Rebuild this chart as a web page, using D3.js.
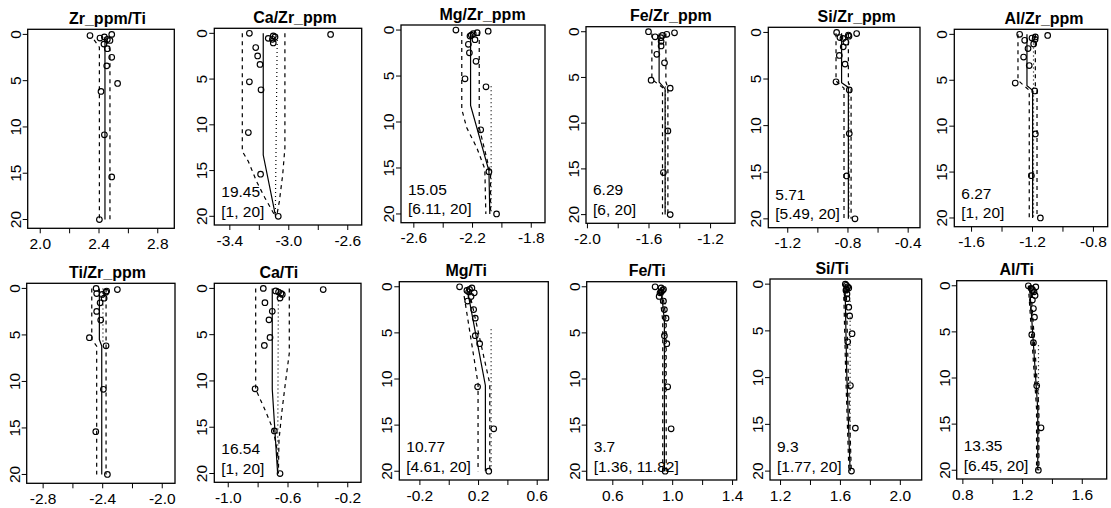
<!DOCTYPE html>
<html><head><meta charset="utf-8">
<script src="https://cdn.jsdelivr.net/npm/d3@7"></script>
<style>
body{margin:0;background:#fff;}
svg{display:block;font-family:"Liberation Sans",Arial,Helvetica,sans-serif;}
</style></head><body>
<svg id="c" width="1111" height="508"></svg>
<script>
// ---------- data ----------
const depths = [0.0, 0.12, 0.28, 0.4, 0.55, 0.65, 1.05, 1.55, 2.47, 3.4, 5.3, 6.17, 10.85, 15.4, 20.0];
const titles = ["Zr_ppm/Ti","Ca/Zr_ppm","Mg/Zr_ppm","Fe/Zr_ppm","Si/Zr_ppm","Al/Zr_ppm",
                "Ti/Zr_ppm","Ca/Ti","Mg/Ti","Fe/Ti","Si/Ti","Al/Ti"];
const xTicks = [
  [2.0,2.2,2.4,2.6,2.8], [-3.4,-3.2,-3.0,-2.8,-2.6], [-2.6,-2.4,-2.2,-2.0,-1.8],
  [-2.0,-1.8,-1.6,-1.4,-1.2], [-1.2,-1.0,-0.8,-0.6,-0.4], [-1.6,-1.4,-1.2,-1.0,-0.8],
  [-2.8,-2.6,-2.4,-2.2,-2.0], [-1.0,-0.8,-0.6,-0.4,-0.2], [-0.2,0.0,0.2,0.4,0.6],
  [0.6,0.8,1.0,1.2,1.4], [1.2,1.4,1.6,1.8,2.0], [0.8,1.0,1.2,1.4,1.6]];
const xLims = [
  [1.918,2.916], [-3.502,-2.502], [-2.684,-1.703], [-2.006,-1.038], [-1.326,-0.318], [-1.71,-0.703],
  [-2.907,-1.911], [-1.09,-0.108], [-0.337,0.679], [0.429,1.431], [1.133,2.146], [0.762,1.767]];
const yTicks = [0, 5, 10, 15, 20];
const yLim = [-0.55, 20.95];
const breakpoints = [null,"19.45","15.05","6.29","5.71","6.27",null,"16.54","10.77","3.7","9.3","13.35"];
const intervals = [null,"[1, 20]","[6.11, 20]","[6, 20]","[5.49, 20]","[1, 20]",null,"[1, 20]","[4.61, 20]","[1.36, 11.82]","[1.77, 20]","[6.45, 20]"];

// measured ratios (one value per depth)
const zrTi  = [2.49, 2.342, 2.44, 2.41, 2.46, 2.478, 2.437, 2.46, 2.49, 2.456, 2.53, 2.417, 2.44, 2.49, 2.406];
const caZr  = [-3.264, -2.713, -3.102, -3.09, -3.136, -3.108, -3.102, -3.221, -3.208, -3.192, -3.264, -3.185, -3.271, -3.188, -3.068];
const mgZr  = [-2.31, -2.09, -2.165, -2.192, -2.205, -2.214, -2.18, -2.225, -2.218, -2.173, -2.248, -2.105, -2.141, -2.085, -2.033];
const feZr  = [-1.6, -1.431, -1.481, -1.509, -1.557, -1.52, -1.518, -1.518, -1.546, -1.496, -1.583, -1.459, -1.474, -1.503, -1.459];
const siZr  = [-0.872, -0.739, -0.794, -0.79, -0.85, -0.83, -0.81, -0.828, -0.854, -0.816, -0.876, -0.788, -0.788, -0.805, -0.75];
const alZr  = [-1.281, -1.097, -1.178, -1.2, -1.18, -1.248, -1.189, -1.226, -1.255, -1.218, -1.31, -1.182, -1.178, -1.204, -1.145];
const tiZr  = [-2.441, -2.298, -2.37, -2.375, -2.437, -2.40, -2.387, -2.414, -2.437, -2.41, -2.486, -2.374, -2.392, -2.443, -2.365];
const caTi  = [-0.762, -0.361, -0.679, -0.66, -0.644, -0.635, -0.65, -0.751, -0.702, -0.724, -0.717, -0.755, -0.817, -0.688, -0.65];
const mgTi  = [0.074, 0.158, 0.142, 0.124, 0.136, 0.174, 0.152, 0.129, 0.17, 0.181, 0.181, 0.211, 0.197, 0.307, 0.273];
const feTi  = [0.886, 0.926, 0.942, 0.935, 0.926, 0.919, 0.913, 0.942, 0.948, 0.959, 0.948, 0.964, 0.97, 0.993, 0.953];
const siTi  = [1.636, 1.643, 1.652, 1.659, 1.645, 1.64, 1.647, 1.647, 1.659, 1.665, 1.681, 1.652, 1.67, 1.703, 1.677];
const alTi  = [1.242, 1.292, 1.26, 1.269, 1.27, 1.28, 1.287, 1.269, 1.276, 1.283, 1.265, 1.276, 1.298, 1.327, 1.309];

// fitted lines: [value, depth]
const fitSolid = [
  [[2.444,0.3],[2.444,20]],
  [[-3.17,0],[-3.17,13.3],[-3.086,20]],
  [[-2.21,0.2],[-2.21,8.2],[-2.085,15.3],[-2.079,20]],
  [[-1.531,0.2],[-1.531,5.5],[-1.492,6.25],[-1.492,20]],
  [[-0.839,0.1],[-0.839,5.4],[-0.794,5.9],[-0.794,20]],
  [[-1.233,0],[-1.233,5.6],[-1.196,6.1],[-1.196,20]],
  [[-2.419,0],[-2.419,5.5],[-2.403,6.2],[-2.403,20]],
  [[-0.702,0],[-0.702,10.9],[-0.666,20]],
  [[0.124,0.07],[0.25,10.7],[0.25,20]],
  [[0.926,0.1],[0.948,3.7],[0.948,20]],
  [[1.634,0],[1.645,9.3],[1.668,20]],
  [[1.25,0],[1.305,13.35],[1.305,20]]];
const fitLower = [
  [[2.37,0.6],[2.406,1.4],[2.406,20]],
  [[-3.312,0],[-3.312,12.9],[-3.271,14.0],[-3.215,16.2],[-3.158,18.0],[-3.095,19.8]],
  [[-2.27,0.2],[-2.27,8.6],[-2.237,10.6],[-2.169,12.75],[-2.113,15.1],[-2.106,20]],
  [[-1.578,0.2],[-1.578,5.2],[-1.509,6.1],[-1.509,20]],
  [[-0.876,0.1],[-0.876,5.2],[-0.823,6.0],[-0.823,20]],
  [[-1.292,0],[-1.292,5.0],[-1.218,6.1],[-1.218,20]],
  [[-2.47,0],[-2.47,5.5],[-2.437,6.2],[-2.437,20]],
  [[-0.813,0],[-0.813,10.9],[-0.751,13.1],[-0.695,15.3],[-0.666,17.8],[-0.666,20]],
  [[0.105,1.0],[0.2,10.5],[0.2,20]],
  [[0.915,0.5],[0.937,3.7],[0.937,20]],
  [[1.625,0.5],[1.638,9.3],[1.66,20]],
  [[1.242,0],[1.297,13.35],[1.297,20]]];
const fitUpper = [
  [[2.452,0.6],[2.478,1.7],[2.478,20]],
  [[-3.023,0],[-3.023,12.5],[-3.038,15.45],[-3.061,18.4],[-3.079,20]],
  [[-2.151,0.2],[-2.151,10.6],[-2.113,13.1],[-2.074,15.65],[-2.074,20]],
  [[-1.487,0.2],[-1.487,5.5],[-1.474,6.1],[-1.474,20]],
  [[-0.794,0.1],[-0.794,5.4],[-0.776,6.0],[-0.776,20]],
  [[-1.178,0],[-1.178,5.6],[-1.167,6.1],[-1.167,20]],
  [[-2.374,0],[-2.374,20]],
  [[-0.588,0],[-0.588,7],[-0.617,10.6],[-0.639,13.5],[-0.657,16.4],[-0.661,20]],
  [[0.14,0.5],[0.28,10.5],[0.28,20]],
  [[0.935,0.5],[0.96,3.7],[0.96,20]],
  [[1.642,0.5],[1.655,9.3],[1.676,20]],
  [[1.258,0],[1.313,13.35],[1.313,20]]];
const fitDotted = [
  [],
  [[-3.075,0.3],[-3.088,20]],
  [[-2.07,6.11],[-2.07,20]],
  [[-1.49,6],[-1.49,20]],
  [[-0.79,5.49],[-0.79,20]],
  [[-1.19,1],[-1.19,20]],
  [[-2.395,0],[-2.395,6]],
  [[-0.661,0],[-0.666,20]],
  [[0.289,4.61],[0.289,20]],
  [[0.955,1.36],[0.955,11.82]],
  [[1.668,1.77],[1.668,20]],
  [[1.31,6.45],[1.31,20]]];

const seriesValues = [zrTi, caZr, mgZr, feZr, siZr, alZr, tiZr, caTi, mgTi, feTi, siTi, alTi];

// ---------- layout (pixel boxes: left, top, right, bottom, title centre x) ----------
const layout = [
  [27.7, 29.3, 174.3, 228.3, 107.5], [214.3, 28.3, 361.7, 225, 295], [401, 25, 545, 222.7, 482.5],
  [586, 26.7, 735, 223.3, 670.8], [768.3, 27.3, 920, 227.7, 856.7], [954.3, 29.3, 1107.7, 226.7, 1044],
  [26.7, 283.3, 175, 483.3, 107.5], [214.3, 283.3, 361, 482.3, 278.8], [399.3, 281.7, 548.3, 480, 466.2],
  [586.7, 281.7, 736.7, 480, 647.2], [770, 279, 921.7, 480, 832.2], [956.7, 280.7, 1106.7, 479, 1016.7]];

const svg = d3.select("#c");
svg.append("rect").attr("width",1111).attr("height",508).attr("fill","#fff");

titles.forEach((title, i) => {
  const [L, T, R, B, tx] = layout[i];
  const x = d3.scaleLinear().domain(xLims[i]).range([L, R]);
  const y = d3.scaleLinear().domain(yLim).range([T, B]);
  const g = svg.append("g");
  const line = d3.line().x(d => x(d[0])).y(d => y(d[1]));

  const drawLine = (pts, dash) => {
    if (!pts.length) return;
    g.append("path").attr("d", line(pts)).attr("fill","none").attr("stroke","#000")
      .attr("stroke-width",1.2).attr("stroke-dasharray", dash);
  };
  drawLine(fitDotted[i], "1,3");
  drawLine(fitLower[i], "4,4");
  drawLine(fitUpper[i], "4,4");
  drawLine(fitSolid[i], null);

  g.selectAll("circle").data(seriesValues[i].map((v, k) => [v, depths[k]])).join("circle")
    .attr("cx", d => x(d[0])).attr("cy", d => y(d[1])).attr("r", 2.8)
    .attr("fill","none").attr("stroke","#000").attr("stroke-width",1.15);

  g.append("rect").attr("x",L).attr("y",T).attr("width",R-L).attr("height",B-T)
    .attr("fill","none").attr("stroke","#000").attr("stroke-width",1.3);

  const ax = d3.axisBottom(x).tickValues(xTicks[i]).tickSize(5).tickPadding(4.5)
    .tickFormat((d, j) => j % 2 === 0 ? d.toFixed(1) : "");
  const axg = g.append("g").attr("transform",`translate(0,${B})`).call(ax);
  axg.select(".domain").remove();
  axg.selectAll("line").attr("stroke","#000");
  axg.selectAll("text").attr("font-size",15.5).attr("font-family",null).attr("fill","#000");
  axg.attr("font-family",null);

  const ay = g.append("g");
  ay.selectAll("line").data(yTicks).join("line")
    .attr("x1", L).attr("x2", L - 5).attr("y1", d => y(d)).attr("y2", d => y(d)).attr("stroke","#000");
  ay.selectAll("text").data(yTicks).join("text")
    .attr("transform", d => `translate(${L - 7},${y(d)}) rotate(-90)`)
    .attr("text-anchor","middle").attr("font-size",15.5).text(d => d);

  g.append("text").attr("x", tx).attr("y", T - 5.5).attr("text-anchor","middle")
    .attr("font-size",16).attr("font-weight","bold").text(title);

  if (breakpoints[i]) {
    g.append("text").attr("x", L + 7).attr("y", B - 28).attr("font-size",15.5).text(breakpoints[i]);
    g.append("text").attr("x", L + 7).attr("y", B - 8.5).attr("font-size",15.5).text(intervals[i]);
  }
});
</script>
</body></html>
